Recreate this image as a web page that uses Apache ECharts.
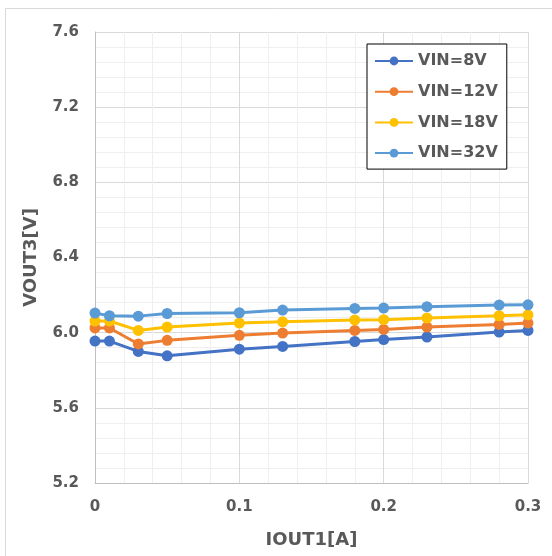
<!DOCTYPE html>
<html>
<head>
<meta charset="utf-8">
<script src="https://cdn.jsdelivr.net/npm/echarts@6/dist/echarts.min.js"></script>
<style>
html,body{margin:0;padding:0;background:#fff;}
#chart{width:552px;height:556px;}
</style>
</head>
<body>
<div id="chart"></div>
<script>
var iout = [0, 0.01, 0.03, 0.05, 0.1, 0.13, 0.18, 0.2, 0.23, 0.28, 0.3];
var vin8  = [5.955, 5.955, 5.900, 5.877, 5.912, 5.927, 5.953, 5.963, 5.977, 6.003, 6.012];
var vin12 = [6.025, 6.025, 5.940, 5.959, 5.986, 5.998, 6.012, 6.017, 6.030, 6.044, 6.051];
var vin18 = [6.062, 6.062, 6.012, 6.030, 6.051, 6.058, 6.067, 6.069, 6.078, 6.090, 6.095];
var vin32 = [6.104, 6.090, 6.088, 6.102, 6.106, 6.120, 6.129, 6.131, 6.138, 6.147, 6.148];
var seriesNames = ['VIN=8V', 'VIN=12V', 'VIN=18V', 'VIN=32V'];
var seriesData = [vin8, vin12, vin18, vin32];
var colors = ['#4472C4', '#ED7D31', '#FFC000', '#5B9BD5'];

function pairs(vals) {
  return iout.map(function (x, i) { return [x, vals[i]]; });
}

var font = '"DejaVu Sans", Verdana, sans-serif';
var chart = echarts.init(document.getElementById('chart'), null, {renderer: 'canvas'});
chart.setOption({
  animation: false,
  color: colors,
  graphic: [{
    type: 'rect',
    shape: {x: 5.5, y: 8.5, width: 600, height: 600},
    style: {fill: 'none', stroke: '#d9d9d9', lineWidth: 1},
    silent: true, z: -10
  }],
  grid: {left: 95, top: 32, right: 24, bottom: 73, containLabel: false},
  legend: {
    orient: 'vertical',
    left: 367, top: 44,
    data: seriesNames,
    backgroundColor: '#fff',
    borderColor: '#000', borderWidth: 1,
    padding: [9, 9, 8, 7],
    itemWidth: 38, itemHeight: 11, itemGap: 14.7,
    textStyle: {fontFamily: font, fontWeight: 'bold', fontSize: 16, color: '#595959', lineHeight: 16}
  },
  xAxis: {
    type: 'value', min: 0, max: 0.3, interval: 0.1,
    name: 'IOUT1[A]', nameLocation: 'middle', nameGap: 48,
    nameTextStyle: {fontFamily: font, fontWeight: 'bold', fontSize: 18, color: '#595959'},
    axisLine: {show: true, lineStyle: {color: '#bfbfbf', width: 1}},
    axisTick: {show: false},
    axisLabel: {margin: 17, fontFamily: font, fontWeight: 'bold', fontSize: 15, color: '#595959',
      formatter: function (v) { return v === 0 ? '0' : v.toFixed(1); }},
    splitLine: {show: true, lineStyle: {color: '#d9d9d9', width: 1}},
    minorTick: {show: false, splitNumber: 5},
    minorSplitLine: {show: true, lineStyle: {color: '#efefef', width: 1}}
  },
  yAxis: {
    type: 'value', min: 5.2, max: 7.6, interval: 0.4,
    name: 'VOUT3[V]', nameLocation: 'middle', nameGap: 55,
    nameTextStyle: {fontFamily: font, fontWeight: 'bold', fontSize: 18, color: '#595959'},
    axisLine: {show: true, lineStyle: {color: '#bfbfbf', width: 1}},
    axisTick: {show: false},
    axisLabel: {margin: 16, fontFamily: font, fontWeight: 'bold', fontSize: 15, color: '#595959',
      formatter: function (v) { return v.toFixed(1); }},
    splitLine: {show: true, lineStyle: {color: '#d9d9d9', width: 1}},
    minorTick: {show: false, splitNumber: 5},
    minorSplitLine: {show: true, lineStyle: {color: '#efefef', width: 1}}
  },
  series: seriesNames.map(function (n, i) {
    return {
      name: n, type: 'line', data: pairs(seriesData[i]),
      symbol: 'circle', symbolSize: 11, showSymbol: true,
      lineStyle: {width: 3, color: colors[i]},
      itemStyle: {color: colors[i]},
      z: 2 + i
    };
  })
});
</script>
</body>
</html>
